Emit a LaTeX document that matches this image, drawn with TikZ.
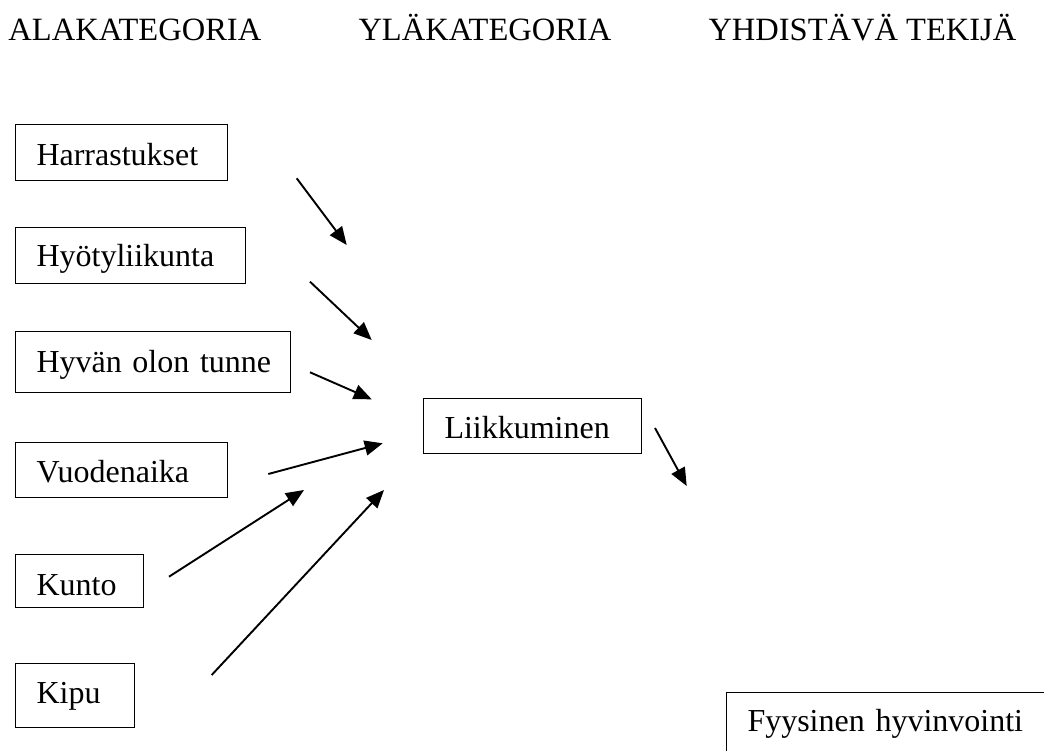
\documentclass[tikz,border=0pt]{standalone}
\usepackage{fontspec}
\setmainfont{Liberation Serif}
\usetikzlibrary{arrows.meta}

\tikzset{
  heading/.style={anchor=base west, inner sep=0pt, font=\fontsize{32.5pt}{36pt}\selectfont},
  catbox/.style n args={4}{draw=black, line width=1pt, anchor=north west,
    inner xsep=21pt, inner ysep=0pt, align=left,
    font=\fontsize{32pt}{36pt}\selectfont,
    text width=#1pt-42pt, minimum height=#2pt,
    text height=#3pt, text depth=#4pt},
  link/.style={line width=1.9pt, -{Triangle[length=18pt, width=15pt]}}
}

\begin{document}
\begin{tikzpicture}[x=1pt, y=-1pt]
  % page frame
  \clip (0,0) rectangle (1044,751);
  \fill[white] (0,0) rectangle (1044,751);

  % column headings
  \node[heading] (h1) at (8.3,40.7) {ALAKATEGORIA};
  \node[heading] (h2) at (358.3,40.7) {YLÄKATEGORIA};
  \node[heading] (h3) at (708.3,40.7) {YHDISTÄVÄ TEKIJÄ};

  % sub-categories
  \node[catbox={212}{56}{30}{4}]     (harr)  at (15,124) {Harrastukset};
  \node[catbox={230}{56}{28}{6}]     (hyoty) at (15,227) {Hyötyliikunta};
  \node[catbox={275}{61}{27}{7}]     (hyvan) at (15,331) {\mbox{Hyvän olon tunne}};
  \node[catbox={212}{55}{29.7}{4.3}] (vuod)  at (15,442) {Vuodenaika};
  \node[catbox={128}{53}{31.3}{2.7}] (kunto) at (15,554) {Kunto};
  \node[catbox={119}{64}{25.3}{8.7}] (kipu)  at (15,663) {Kipu};

  % main category
  \node[catbox={218}{55}{29.6}{4.4}] (liik)  at (423,398) {Liikkuminen};

  % unifying factor
  \node[catbox={360}{98}{6.7}{27.3}] (fyys)  at (726,692) {\mbox{Fyysinen hyvinvointi}};

  % arrow end points
  \coordinate (a1s) at (296.7,178.3); \coordinate (a1e) at (346.7,245);
  \coordinate (a2s) at (310,281.7);   \coordinate (a2e) at (371.7,340);
  \coordinate (a3s) at (310,372.3);   \coordinate (a3e) at (371.7,399.3);
  \coordinate (a4s) at (268.3,474);   \coordinate (a4e) at (382.7,443.3);
  \coordinate (a5s) at (169,576.7);   \coordinate (a5e) at (304,490);
  \coordinate (a6s) at (211.7,675);   \coordinate (a6e) at (384,490);
  \coordinate (a7s) at (655,428);     \coordinate (a7e) at (686.7,486);

  % arrows
  \draw[link] (a1s) -- (a1e);
  \draw[link] (a2s) -- (a2e);
  \draw[link] (a3s) -- (a3e);
  \draw[link] (a4s) -- (a4e);
  \draw[link] (a5s) -- (a5e);
  \draw[link] (a6s) -- (a6e);
  \draw[link] (a7s) -- (a7e);
\end{tikzpicture}
\end{document}
